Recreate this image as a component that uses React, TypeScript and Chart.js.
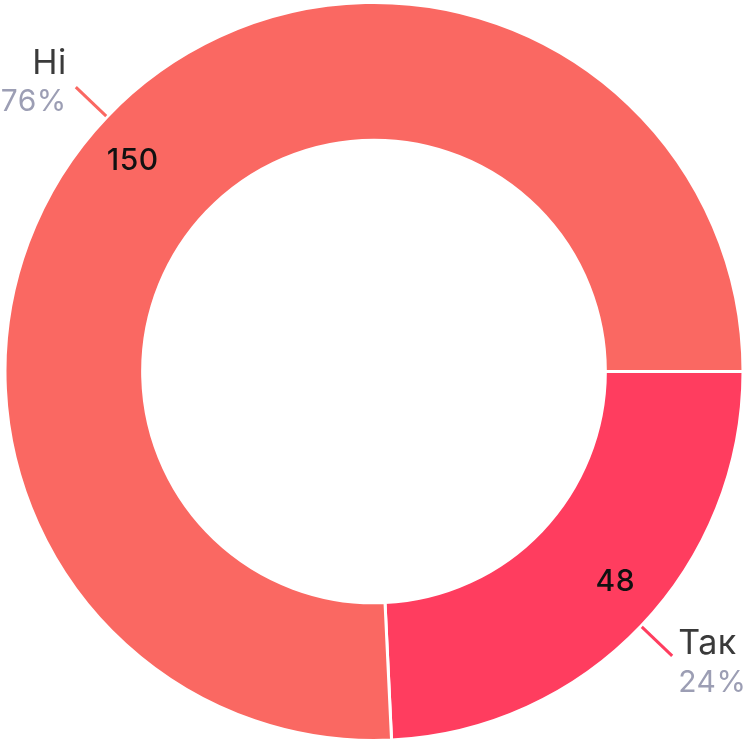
import React, { useEffect, useRef } from "react";
import { Chart, registerables } from "chart.js";

Chart.register(...registerables);

const categories = ["Так", "Ні"];
const values = [48, 150];
const percentLabels = ["24%", "76%"];
const sliceColors = ["#FF3D5F", "#FA6862"];

const FONT = "Inter, 'Noto Sans', sans-serif";

const labelPlugin = {
  id: "outerLabels",
  afterDatasetsDraw(chart: any) {
    const ctx = chart.ctx;
    const meta = chart.getDatasetMeta(0);
    meta.data.forEach((arc: any, i: number) => {
      const { x, y, startAngle, endAngle, outerRadius } = arc.getProps(
        ["x", "y", "startAngle", "endAngle", "outerRadius"],
        true
      );
      const mid = (startAngle + endAngle) / 2;
      const c = Math.cos(mid);
      const s = Math.sin(mid);
      // leader line
      const r1 = outerRadius + 1;
      const r2 = outerRadius + 43;
      const ex = x + c * r2;
      const ey = y + s * r2;
      ctx.save();
      ctx.strokeStyle = sliceColors[i];
      ctx.lineWidth = 3;
      ctx.beginPath();
      ctx.moveTo(x + c * r1, y + s * r1);
      ctx.lineTo(ex, ey);
      ctx.stroke();

      // category + percent
      const left = c < 0;
      ctx.textAlign = left ? "right" : "left";
      ctx.textBaseline = "alphabetic";
      (ctx as any).letterSpacing = "0.5px";
      const tx = left ? ex - 9 : ex + 6;
      const nameY = s < 0 ? ey - 13 : ey - 2;
      const pctY = s < 0 ? ey + 24 : ey + 36;
      ctx.fillStyle = "#3a3a3a";
      ctx.font = `34px ${FONT}`;
      ctx.fillText(categories[i], tx, nameY);
      ctx.fillStyle = "#9c9eb4";
      ctx.font = `30px ${FONT}`;
      ctx.fillText(percentLabels[i], tx, pctY);

      // value label inside
      const va = mid - (2.5 * Math.PI) / 180;
      const rv = outerRadius * 0.868;
      ctx.fillStyle = "#111111";
      ctx.font = `500 30px ${FONT}`;
      ctx.textAlign = "center";
      ctx.textBaseline = "middle";
      ctx.fillText(String(values[i]), x + Math.cos(va) * rv, y + Math.sin(va) * rv);
      ctx.restore();
    });
  },
};

export default function App() {
  const ref = useRef<HTMLCanvasElement>(null);
  useEffect(() => {
    document.body.style.margin = "0";
    const chart = new Chart(ref.current!, {
      type: "doughnut",
      data: {
        labels: categories,
        datasets: [
          {
            data: values,
            backgroundColor: sliceColors,
            borderColor: "#ffffff",
            borderWidth: 3,
          },
        ],
      },
      options: {
        responsive: false,
        animation: false,
        rotation: 90,
        cutout: "62.7%",
        layout: { padding: { top: 1, right: 3 } },
        plugins: {
          legend: { display: false },
          tooltip: { enabled: false },
        },
      },
      plugins: [labelPlugin],
    });
    return () => chart.destroy();
  }, []);
  return (
    <div style={{ position: "absolute", left: 0, top: 0, width: 751, height: 742 }}>
      <canvas ref={ref} width={751} height={742} />
    </div>
  );
}
